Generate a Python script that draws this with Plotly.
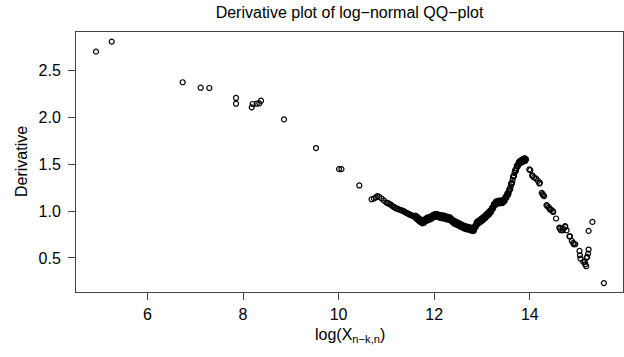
import plotly.graph_objects as go

# sparse left part
x_left = [4.925, 5.253, 6.738, 7.115, 7.295, 7.854, 7.854, 8.182, 8.203, 8.287,
          8.341, 8.377, 8.858, 9.527, 10.01, 10.06, 10.433, 10.69]
y_left = [2.696, 2.803, 2.370, 2.312, 2.309, 2.203, 2.142, 2.103, 2.139, 2.142,
          2.146, 2.174, 1.975, 1.670, 1.446, 1.446, 1.272, 1.125]

# dense middle chain (centre of the band)
x_mid = [10.74, 10.78, 10.81, 10.85, 10.90, 10.95, 11.00, 11.03, 11.06, 11.09,
         11.12, 11.15, 11.18, 11.21, 11.24, 11.27, 11.30, 11.33, 11.36, 11.38,
         11.40, 11.42, 11.44, 11.46, 11.48, 11.50, 11.52, 11.54, 11.56, 11.58,
         11.60, 11.62, 11.64, 11.66, 11.68, 11.70, 11.72, 11.74, 11.76, 11.78,
         11.80, 11.82, 11.84, 11.86, 11.88, 11.90, 11.92, 11.94, 11.96, 11.98,
         12.00, 12.02, 12.04, 12.06, 12.08, 12.10, 12.12, 12.14, 12.16, 12.18,
         12.20, 12.22, 12.24, 12.26, 12.28, 12.30, 12.32, 12.34, 12.36, 12.38,
         12.40, 12.42, 12.44, 12.46, 12.48, 12.50, 12.52, 12.54, 12.56, 12.58,
         12.60, 12.62, 12.64, 12.66, 12.68, 12.70, 12.72, 12.74, 12.76, 12.78,
         12.80, 12.82, 12.84, 12.86, 12.88, 12.90, 12.92, 12.94, 12.96, 12.98,
         13.00, 13.02, 13.04, 13.06, 13.08, 13.10, 13.12, 13.14, 13.16, 13.18,
         13.20, 13.22, 13.24, 13.26, 13.28, 13.30, 13.32, 13.34, 13.36, 13.38,
         13.40, 13.42, 13.44, 13.46, 13.48, 13.50, 13.52, 13.54, 13.56, 13.58,
         13.60, 13.62, 13.64, 13.66, 13.68, 13.70, 13.72, 13.74, 13.76, 13.78,
         13.80, 13.82, 13.84, 13.86, 13.88, 13.90, 13.92]
y_mid = [1.133, 1.145, 1.158, 1.150, 1.133, 1.110, 1.090, 1.085, 1.075, 1.069,
         1.055, 1.045, 1.035, 1.027, 1.022, 1.016, 1.010, 1.005, 0.998, 0.992,
         0.985, 0.980, 0.975, 0.970, 0.965, 0.960, 0.955, 0.952, 0.946, 0.942,
         0.938, 0.933, 0.929, 0.918, 0.908, 0.900, 0.893, 0.886, 0.882, 0.885,
         0.895, 0.905, 0.912, 0.915, 0.918, 0.921, 0.925, 0.930, 0.938, 0.945,
         0.950, 0.953, 0.955, 0.954, 0.950, 0.946, 0.942, 0.940, 0.938, 0.937,
         0.936, 0.934, 0.930, 0.926, 0.924, 0.922, 0.920, 0.915, 0.905, 0.895,
         0.888, 0.880, 0.874, 0.869, 0.866, 0.862, 0.856, 0.850, 0.845, 0.840,
         0.835, 0.830, 0.826, 0.822, 0.820, 0.818, 0.815, 0.813, 0.810, 0.805,
         0.800, 0.797, 0.810, 0.835, 0.860, 0.872, 0.880, 0.888, 0.895, 0.902,
         0.910, 0.918, 0.925, 0.935, 0.945, 0.955, 0.965, 0.975, 0.985, 0.995,
         1.010, 1.030, 1.050, 1.068, 1.080, 1.088, 1.092, 1.095, 1.096, 1.097,
         1.098, 1.099, 1.100, 1.108, 1.125, 1.145, 1.165, 1.180, 1.200, 1.230,
         1.262, 1.293, 1.330, 1.370, 1.405, 1.430, 1.455, 1.480, 1.500, 1.515,
         1.522, 1.528, 1.534, 1.540, 1.545, 1.548, 1.552]

# points read along the upper / lower edges of the thick band
x_band = [11.61, 11.63, 11.65, 11.67, 11.69, 11.71, 11.73, 11.75, 11.77, 11.79,
          11.81, 11.83, 11.85, 11.87, 11.89, 11.91, 11.93, 11.95, 11.97, 11.99,
          12.01, 12.03, 12.05, 12.07, 12.09, 12.11, 12.13, 12.15, 12.17, 12.19,
          12.21, 12.23, 12.25, 12.27, 12.29, 12.31, 12.33, 12.35, 12.37, 12.39,
          12.41, 12.43, 12.45, 12.47, 12.49, 12.51, 12.53, 12.55, 12.57, 12.59,
          12.61, 12.63, 12.65, 12.67, 12.69, 12.71, 12.73, 12.75, 12.77, 12.79,
          12.81, 12.83, 12.85, 12.87, 12.89, 12.91, 12.93, 12.95, 12.97, 12.99,
          13.01, 13.03, 13.05, 13.07, 13.09, 13.11, 13.13, 13.15, 13.17, 13.19,
          13.21, 13.23, 13.25, 13.27, 13.29, 13.31, 13.33, 13.35, 13.37, 13.39,
          13.41, 13.43, 13.45, 13.47, 13.49, 13.51, 13.53, 13.55, 13.57, 13.59,
          13.61, 13.63, 13.65, 13.67, 13.69, 13.71, 13.73, 13.75, 13.77, 13.79,
          13.81, 13.83, 13.85, 13.87, 13.89, 13.91]
y_band = [0.951, 0.916, 0.938, 0.898, 0.919, 0.882, 0.905, 0.869, 0.899, 0.875,
          0.915, 0.894, 0.929, 0.902, 0.935, 0.908, 0.943, 0.919, 0.957, 0.933,
          0.967, 0.939, 0.970, 0.937, 0.963, 0.929, 0.956, 0.924, 0.953, 0.922,
          0.950, 0.917, 0.943, 0.910, 0.938, 0.906, 0.933, 0.895, 0.915, 0.877,
          0.899, 0.862, 0.887, 0.853, 0.879, 0.844, 0.868, 0.833, 0.858, 0.823,
          0.848, 0.813, 0.839, 0.806, 0.834, 0.802, 0.829, 0.797, 0.823, 0.788,
          0.814, 0.789, 0.838, 0.833, 0.881, 0.861, 0.899, 0.877, 0.914, 0.891,
          0.929, 0.907, 0.945, 0.925, 0.965, 0.945, 0.985, 0.965, 1.005, 0.988,
          1.035, 1.025, 1.074, 1.059, 1.099, 1.075, 1.109, 1.081, 1.112, 1.083,
          1.114, 1.085, 1.119, 1.102, 1.150, 1.140, 1.188, 1.175, 1.230, 1.231,
          1.293, 1.297, 1.365, 1.373, 1.433, 1.428, 1.483, 1.475, 1.523, 1.504,
          1.540, 1.516, 1.552, 1.528, 1.562, 1.535]

# right tail
x_right = [13.99, 14.01, 14.05, 14.06, 14.09, 14.13, 14.17, 14.20, 14.21, 14.25,
           14.27, 14.28, 14.30, 14.35, 14.37, 14.40, 14.42, 14.44, 14.48, 14.49,
           14.55, 14.62, 14.63, 14.65, 14.69, 14.70, 14.74, 14.74, 14.77, 14.83,
           14.84, 14.88, 14.91, 14.92, 14.95, 15.04, 15.05, 15.06, 15.12, 15.15,
           15.16, 15.18, 15.19, 15.20, 15.22, 15.23, 15.23, 15.31, 15.55]
y_right = [1.442, 1.435, 1.380, 1.371, 1.357, 1.346, 1.321, 1.293, 1.300, 1.193,
           1.179, 1.168, 1.158, 1.062, 1.051, 1.037, 1.016, 1.016, 1.001, 0.990,
           0.920, 0.824, 0.813, 0.795, 0.795, 0.813, 0.830, 0.838, 0.795, 0.731,
           0.731, 0.681, 0.660, 0.646, 0.646, 0.575, 0.529, 0.494, 0.458, 0.458,
           0.433, 0.412, 0.504, 0.511, 0.547, 0.590, 0.788, 0.884, 0.233]

x_vals = x_left + x_mid + x_band + x_right
y_vals = y_left + y_mid + y_band + y_right

x_ticks = [6, 8, 10, 12, 14]
y_ticks = [0.5, 1.0, 1.5, 2.0, 2.5]
y_ticktext = ["0.5", "1.0", "1.5", "2.0", "2.5"]

FONT = "Liberation Sans, Arial, Helvetica, sans-serif"
FS = 16

fig = go.Figure()
fig.add_trace(go.Scatter(
    x=x_vals, y=y_vals, mode="markers",
    marker=dict(symbol="circle-open", size=5, color="black",
                line=dict(color="black", width=1.2)),
    showlegend=False, hoverinfo="skip"))

fig.update_layout(
    width=624, height=357,
    margin=dict(l=76, r=1, t=32, b=65),
    paper_bgcolor="white", plot_bgcolor="white",
    font=dict(family=FONT, size=FS, color="black"),
    title=dict(text="Derivative plot of log\u2212normal QQ\u2212plot",
               x=(76 + 623) / 2 / 624, xanchor="center",
               y=1 - 12 / 357, yanchor="middle",
               font=dict(family=FONT, size=FS, color="black")),
    xaxis=dict(range=[4.506, 15.95], tickvals=x_ticks,
               ticktext=[str(t) for t in x_ticks],
               showgrid=False, zeroline=False,
               showline=True, mirror=True, linecolor="#444", linewidth=1,
               ticks="outside", ticklen=7, tickcolor="#444", tickwidth=1,
               ticklabelstandoff=1,
               tickfont=dict(family=FONT, size=FS, color="black")),
    yaxis=dict(range=[0.138, 2.905], tickvals=y_ticks, ticktext=y_ticktext,
               showgrid=False, zeroline=False,
               showline=True, mirror=True, linecolor="#444", linewidth=1,
               ticks="outside", ticklen=7, tickcolor="#444", tickwidth=1,
               ticklabelstandoff=4,
               tickfont=dict(family=FONT, size=FS, color="black")),
    annotations=[
        dict(text="log(X<sub>n\u2212k,n</sub>)", xref="paper", yref="paper",
             x=0.5, y=-(335 - 292) / 260, xanchor="center", yanchor="middle",
             showarrow=False, font=dict(family=FONT, size=FS, color="black")),
        dict(text="Derivative", xref="paper", yref="paper",
             x=-(76 - 21) / 547, y=0.5, xanchor="center", yanchor="middle",
             textangle=-90, showarrow=False,
             font=dict(family=FONT, size=FS, color="black")),
    ],
)

fig.write_html("out.html")
